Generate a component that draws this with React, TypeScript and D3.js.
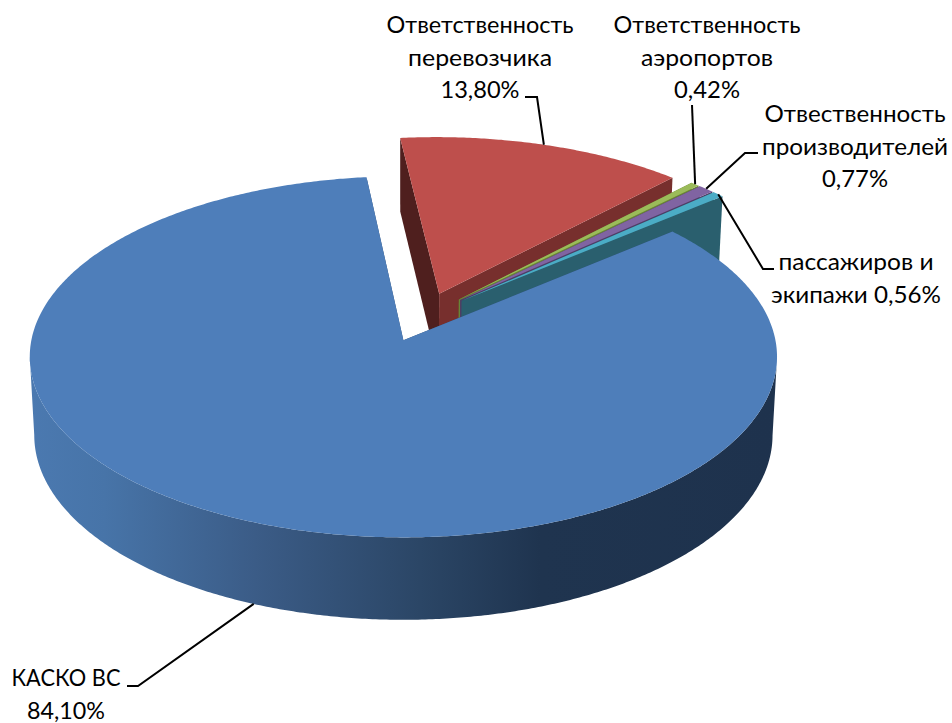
import React from "react";
import { pie, line, range, scaleLinear } from "d3";

const categories = [
  "Ответственность перевозчика",
  "Ответственность аэропортов",
  "Отвественность производителей",
  "пассажиров и экипажи",
  "КАСКО ВС",
];
const shares = [13.8, 0.42, 0.77, 0.56, 84.1];
const topColors = ["#BE4F4C", "#9BBB59", "#8064A2", "#4BACC6", "#4E7EBA"];
const startWallColors = ["#4F1F1E", "#5F7A2C", "#4B3A63", "#2A5F6E", "#2D4A6F"];
const endWallColors = ["#772F2D", "#6A8436", "#4F3D66", "#2A5F6E", "#2D4A6F"];
const labelLines = [
  ["Ответственность", "перевозчика", "13,80%"],
  ["Ответственность", "аэропортов", "0,42%"],
  ["Отвественность", "производителей", "0,77%"],
  ["пассажиров и", "экипажи 0,56%"],
  ["КАСКО ВС", "84,10%"],
];

// label layout: centre x, first baseline, line widths, leader elbows
const labelX = [480, 707, 855, 856, 66];
const labelY = [33, 33, 122, 270, 686];
const labelWidths = [
  [187, 144, 79],
  [187, 132, 66],
  [181, 186, 66],
  [155, 170],
  [109, 78],
];
const leaderElbows = [
  [[537, 97], [525, 97]],
  [[692, 105]],
  [[745, 153], [758, 153]],
  [[763, 269], [774, 269]],
  [[138, 686], [127, 686]],
];
const leaderOnBottom = [false, false, false, false, true];

const gradientStops = [
  [30, "#4B79B0"],
  [105, "#4774A8"],
  [255, "#3B5C87"],
  [420, "#2B4666"],
  [540, "#1F344F"],
  [777, "#1E324D"],
];

const width = 952;
const height = 723;
const cx = 403;
const cy = 340;
const rx = 372;
const ry = 179;
const perspective = 0.0914;
const depth = 78;
const explode = 0.142;
const pieCentre = [0.054, -0.13];
const startDeg = -6.2;
const rad = Math.PI / 180;
const fontSize = 23.5;
const lineGap = 32.5;

// disk coordinates -> screen, z = 0 top face, z = 1 bottom face
function project(px: number, py: number, z: number): [number, number] {
  const s = 1 / (1 - perspective * py);
  const x = cx + rx * (1 - 0.012 * z) * px * s;
  const y = cy + depth * z + (ry + 4 * z) * py * s;
  return [x, y];
}

const arcs = pie<number>()
  .sort(null)
  .startAngle(startDeg * rad)
  .endAngle(startDeg * rad + 2 * Math.PI)(shares);

const toPath = line();

export default function App() {
  const gradX = scaleLinear().domain([30, 777]).range([0, 100]);

  const slices = arcs.map((a, i) => {
    const mid = (a.startAngle + a.endAngle) / 2;
    const ax = pieCentre[0] + explode * Math.sin(mid);
    const ay = pieCentre[1] - explode * Math.cos(mid);
    const rim = (t: number, z: number) =>
      project(ax + Math.sin(t), ay - Math.cos(t), z);
    const n = Math.max(4, Math.ceil((a.endAngle - a.startAngle) / (0.5 * rad)));
    const angles = range(n + 1).map(
      (k) => a.startAngle + ((a.endAngle - a.startAngle) * k) / n
    );
    const apexTop = project(ax, ay, 0);
    const apexBottom = project(ax, ay, 1);
    const wall = (t: number) =>
      toPath([apexTop, rim(t, 0), rim(t, 1), apexBottom])! + "Z";
    const top = toPath([apexTop, ...angles.map((t) => rim(t, 0))])! + "Z";
    // outer wall only for the near part of the rim, from silhouette to silhouette
    const near = angles.filter((t) => ay - Math.cos(t) >= perspective);
    const outer = near.length
      ? toPath([
          ...near.map((t) => rim(t, 0)),
          ...near.slice().reverse().map((t) => rim(t, 1)),
        ])! + "Z"
      : null;
    const anchor = rim(mid, leaderOnBottom[i] ? 1 : 0);
    return {
      start: wall(a.startAngle),
      end: wall(a.endAngle),
      top,
      outer,
      leader: toPath([anchor, ...(leaderElbows[i] as [number, number][])])!,
    };
  });

  return (
    <svg
      width={width}
      height={height}
      viewBox={`0 0 ${width} ${height}`}
      style={{ position: "absolute", left: 0, top: 0, display: "block", background: "#fff" }}
    >
      <defs>
        <linearGradient id="sideBlue" gradientUnits="userSpaceOnUse" x1={30} x2={777} y1={0} y2={0}>
          {gradientStops.map(([x, c], i) => (
            <stop key={i} offset={`${gradX(x as number)}%`} stopColor={c as string} />
          ))}
        </linearGradient>
      </defs>

      {/* Slices, far to near */}
      {slices.map((s, i) => (
        <g key={categories[i]}>
          <path d={s.start} fill={startWallColors[i]} />
          <path d={s.end} fill={endWallColors[i]} />
          {s.outer && <path d={s.outer} fill="url(#sideBlue)" />}
          <path d={s.top} fill={topColors[i]} />
        </g>
      ))}

      {/* Leader lines */}
      {slices.map((s, i) => (
        <path key={i} d={s.leader} fill="none" stroke="#000" strokeWidth={2} />
      ))}

      {/* Labels */}
      <g fontFamily="Lato, 'Open Sans', sans-serif" fontSize={fontSize} fill="#000" textAnchor="middle">
        {labelLines.map((lines, i) =>
          lines.map((t, j) => (
            <text
              key={t + j}
              x={labelX[i]}
              y={labelY[i] + j * lineGap}
              textLength={labelWidths[i][j]}
              lengthAdjust="spacingAndGlyphs"
            >
              {t}
            </text>
          ))
        )}
      </g>
    </svg>
  );
}
